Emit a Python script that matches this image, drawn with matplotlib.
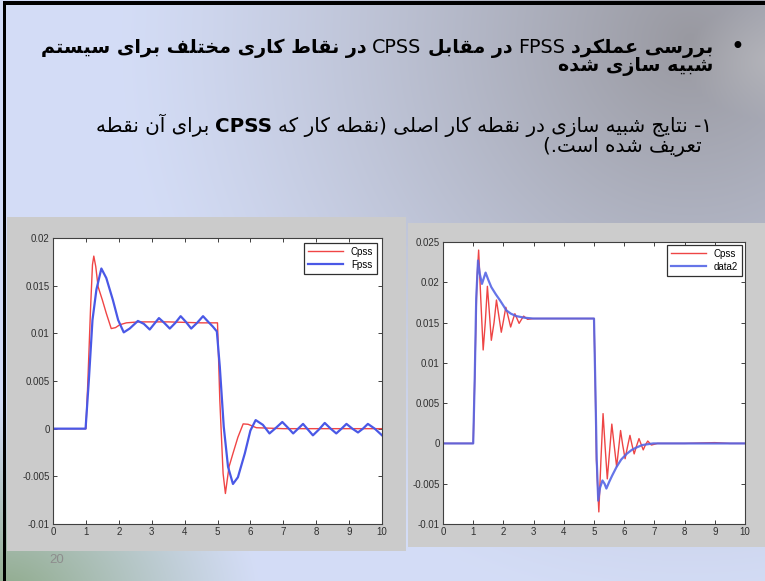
import numpy as np
import matplotlib
matplotlib.use("Agg")
import matplotlib.pyplot as plt
from matplotlib.patches import Rectangle

W, H = 765, 581

# ---- step responses, operating point 1 (left) ----
t_cpss_a = [0, 1.0, 1.06, 1.14, 1.2, 1.24, 1.3, 1.37, 1.5, 1.62, 1.77, 1.9, 2.03, 2.23, 2.6, 3.5, 4.5, 5.0,
            5.07, 5.17, 5.24, 5.35, 5.47, 5.62, 5.78, 5.93, 6.18, 7.0, 10.0]
v_cpss_a = [0, 0, 0.005, 0.0125, 0.0172, 0.0181, 0.0170, 0.0149, 0.0135, 0.0121, 0.0105, 0.0106, 0.0109,
            0.0111, 0.0112, 0.0112, 0.0111, 0.0111,
            0.003, -0.0047, -0.0068, -0.0040, -0.0026, -0.0009, 0.0005, 0.00046, 0.0001, 0.0, 0.0]

t_fpss_a = [0, 0.99, 1.09, 1.2, 1.32, 1.47, 1.62, 1.82, 1.98, 2.15, 2.33, 2.58, 2.76, 2.94, 3.08, 3.22, 3.38,
            3.55, 3.72, 3.88, 4.04, 4.2, 4.38, 4.56, 4.72, 4.86, 4.98,
            5.07, 5.19, 5.32, 5.47, 5.62, 5.83, 6.0, 6.16, 6.38, 6.58, 6.78, 6.97, 7.14, 7.3, 7.45, 7.6, 7.75,
            7.9, 8.08, 8.26, 8.44, 8.61, 8.77, 8.92, 9.1, 9.27, 9.42, 9.57, 9.78, 10.0]
v_fpss_a = [0, 0, 0.0051, 0.0114, 0.0146, 0.0168, 0.0158, 0.0135, 0.0114, 0.0101, 0.0105, 0.0113, 0.0110,
            0.0104, 0.0110, 0.0116, 0.0111, 0.0105, 0.0111, 0.0118, 0.0112, 0.0105, 0.0111, 0.0118, 0.0112,
            0.0107, 0.0102,
            0.0065, 0.0002, -0.0040, -0.0058, -0.0051, -0.0026, -0.0002, 0.0009, 0.0004, -0.0005, 0.0001,
            0.0007, 0.0001, -0.0005, 0.0000, 0.0005, -0.0001, -0.0007, -0.0001, 0.0006, 0.0000, -0.0005,
            0.0000, 0.0005, 0.0000, -0.0004, 0.0000, 0.0005, 0.0000, -0.0007]

# ---- step responses, operating point 2 (right) ----
t_cpss_b = [0, 1.0, 1.05, 1.12, 1.18, 1.25, 1.33, 1.4, 1.47, 1.54, 1.6, 1.69, 1.77, 1.85, 1.93, 2.0, 2.08,
            2.16, 2.24, 2.31, 2.38, 2.45, 2.52, 2.6, 2.67, 2.8, 3.0, 5.0,
            5.04, 5.08, 5.16, 5.23, 5.3, 5.37, 5.44, 5.52, 5.59, 5.67, 5.75, 5.82, 5.88, 5.95, 6.03, 6.11,
            6.19, 6.26, 6.33, 6.41, 6.49, 6.56, 6.63, 6.7, 6.78, 6.9, 7.1, 8.0, 9.0, 9.5, 10.0]
v_cpss_b = [0, 0, 0.008, 0.020, 0.024, 0.018, 0.0116, 0.015, 0.0195, 0.016, 0.0128, 0.015, 0.0178, 0.0158,
            0.0138, 0.0152, 0.0169, 0.0157, 0.01445, 0.0153, 0.0161, 0.0155, 0.0149, 0.0154, 0.0158, 0.0154,
            0.0155, 0.0155,
            0.008, -0.002, -0.0085, -0.002, 0.0037, -0.0005, -0.0044, -0.0008, 0.0024, -0.0003, -0.0029,
            -0.0005, 0.0016, -0.0002, -0.0019, -0.0004, 0.0010, -0.0002, -0.0013, -0.0003, 0.0006, -0.0001,
            -0.0008, -0.0002, 0.0003, -0.0002, 0.0, 0.0, 0.0001, 0.0, 0.0]

t_data2_b = [0, 1.0, 1.05, 1.1, 1.16, 1.22, 1.29, 1.35, 1.41, 1.5, 1.6, 1.75, 1.88, 2.0, 2.1, 2.25, 2.43,
             2.7, 3.0, 5.0, 5.04, 5.09, 5.14, 5.2, 5.28, 5.35, 5.41, 5.5, 5.6, 5.75, 5.9, 6.08, 6.25, 6.41,
             6.6, 6.96, 8.0, 9.0, 10.0]
v_data2_b = [0, 0, 0.008, 0.018, 0.0227, 0.021, 0.0198, 0.0205, 0.0212, 0.0203, 0.0194, 0.0185, 0.0178,
             0.0171, 0.0165, 0.0161, 0.0158, 0.0156, 0.0155, 0.0155, 0.008, -0.002, -0.0071, -0.0055,
             -0.0046, -0.0050, -0.0056, -0.0048, -0.0040, -0.0029, -0.0020, -0.0013, -0.0008, -0.0005,
             -0.0002, 0.0, 0.0, 0.0, 0.0]

xticks = list(range(0, 11))
yticks_a = [-0.01, -0.005, 0, 0.005, 0.01, 0.015, 0.02]
ylabels_a = ["-0.01", "-0.005", "0", "0.005", "0.01", "0.015", "0.02"]
yticks_b = [-0.01, -0.005, 0, 0.005, 0.01, 0.015, 0.02, 0.025]
ylabels_b = ["-0.01", "-0.005", "0", "0.005", "0.01", "0.015", "0.02", "0.025"]

# slide text, logical order; (text, bold, rtl)
line1 = [("بررسی عملکرد", True, True), ("FPSS", False, False), ("در مقابل", True, True),
         ("CPSS", False, False), ("در نقاط کاری مختلف برای سیستم", True, True)]
line2 = [("شبیه سازی شده", True, True)]
line3 = [("۱- نتایج شبیه سازی در نقطه کار اصلی (نقطه کار که", False, True), ("CPSS", True, False),
         ("برای آن نقطه", False, True)]
line4 = [("تعریف شده است.)", False, True)]


# --- minimal arabic shaping: contextual forms + right-to-left order ---
DUAL = {'ب': 0xFE8F, 'ت': 0xFE95, 'ث': 0xFE99, 'ج': 0xFE9D, 'ح': 0xFEA1, 'خ': 0xFEA5, 'س': 0xFEB1,
        'ش': 0xFEB5, 'ص': 0xFEB9, 'ض': 0xFEBD, 'ط': 0xFEC1, 'ظ': 0xFEC5, 'ع': 0xFEC9, 'غ': 0xFECD,
        'ف': 0xFED1, 'ق': 0xFED5, 'ل': 0xFEDD, 'م': 0xFEE1, 'ن': 0xFEE5, 'ه': 0xFEE9,
        'پ': 0xFB56, 'چ': 0xFB7A, 'ک': 0xFB8E, 'گ': 0xFB92, 'ی': 0xFBFC}
RIGHT = {'ا': 0xFE8D, 'آ': 0xFE81, 'د': 0xFEA9, 'ذ': 0xFEAB, 'ر': 0xFEAD, 'ز': 0xFEAF, 'و': 0xFEED,
         'ژ': 0xFB8A}
MIRROR = {'(': ')', ')': '('}


def shape(s):
    out = []
    for i, c in enumerate(s):
        base = DUAL.get(c, RIGHT.get(c))
        if base is None:
            out.append(c)
            continue
        prev = s[i - 1] if i > 0 else ''
        nxt = s[i + 1] if i + 1 < len(s) else ''
        jp = prev in DUAL
        jn = c in DUAL and (nxt in DUAL or nxt in RIGHT)
        if jp and jn:
            off = 3
        elif jp:
            off = 1
        elif jn:
            off = 2
        else:
            off = 0
        out.append(chr(base + off))
    return ''.join(MIRROR.get(c, c) for c in reversed(out))


fig = plt.figure(figsize=(W / 100, H / 100), dpi=100, facecolor='white')

# slide background
bg = fig.add_axes([0, 0, 1, 1])
yy, xx = np.mgrid[0:H, 0:W].astype(float)
lav = np.array([0.83, 0.865, 0.965])
grey = np.array([0.6, 0.6, 0.63])
green = np.array([0.55, 0.66, 0.53])
d1 = np.hypot((xx - 690) / 1.0, (yy - 40) * 1.0)
w1 = np.clip(1 - d1 / 570, 0, 1) ** 1.2
d3 = np.hypot(xx - 775, (yy - 60) * 1.5)
w3 = np.clip(1 - d3 / 90, 0, 1) * 0.6
d2 = np.hypot(xx, (yy - 600) * 1.3)
w2 = np.clip(1 - d2 / 260, 0, 1) ** 1.1
img = lav * (1 - w1[..., None]) + grey * w1[..., None]
img = img * (1 - w3[..., None]) + np.array([0.75, 0.75, 0.76]) * w3[..., None]
img = img * (1 - w2[..., None]) + green * w2[..., None]
bg.imshow(img, extent=(0, W, H, 0), aspect='auto', interpolation='bilinear')
bg.set_xlim(0, W)
bg.set_ylim(H, 0)
bg.axis('off')

# black frame on top and left
bg.add_patch(Rectangle((3, 1), W, 4, color='black', lw=0))
bg.add_patch(Rectangle((3, 1), 3.5, H, color='black', lw=0))

# grey panels behind the two figures
bg.add_patch(Rectangle((7, 217), 399, 334, color='#cbcbcb', lw=0))
bg.add_patch(Rectangle((408, 223), W - 408, 324, color='#cccccc', lw=0))

bg.text(57, 560, "20", fontsize=9.5, color='#8d8d8d', ha='center', va='center', family='Liberation Sans')

renderer = fig.canvas.get_renderer()


def put_line(runs, x_right, y, size):
    x = x_right
    for txt, bold, rtl in runs:
        s = shape(txt) if rtl else txt
        t = bg.text(x, y, s, ha='right', va='baseline', fontsize=size,
                    fontweight='bold' if bold else 'normal', family='DejaVu Sans', color='black')
        w = t.get_window_extent(renderer).width
        x -= w + size * 0.42


bg.text(737, 47, "•", fontsize=17, ha='center', va='center', family='DejaVu Sans')
put_line(line1, 713, 53, 13.8)
put_line(line2, 713, 71, 13.8)
put_line(line3, 712, 132, 14.3)
put_line(line4, 702, 151, 14.3)


def style(ax, yt, yl, ylim):
    ax.set_facecolor('white')
    ax.set_xlim(0, 10)
    ax.set_ylim(*ylim)
    ax.set_xticks(xticks)
    ax.set_xticklabels([str(v) for v in xticks])
    ax.set_yticks(yt)
    ax.set_yticklabels(yl)
    ax.tick_params(direction='in', top=True, right=True, length=3, width=0.7, labelsize=7,
                   pad=2.5, color='#404040', labelcolor='#303030')
    for lab in ax.get_xticklabels() + ax.get_yticklabels():
        lab.set_family('Liberation Sans')
    for sp in ax.spines.values():
        sp.set_color('#404040')
        sp.set_linewidth(0.8)


ax1 = fig.add_axes([53 / W, (H - 524) / H, 329 / W, 286 / H])
ax1.plot(t_cpss_a, v_cpss_a, color='#f04545', lw=1.0, label='Cpss')
ax1.plot(t_fpss_a, v_fpss_a, color='#4a58e6', lw=1.6, label='Fpss')
style(ax1, yticks_a, ylabels_a, (-0.01, 0.02))
leg1 = ax1.legend(loc='upper right', fontsize=7, fancybox=False, edgecolor='#303030', framealpha=1,
                  handlelength=3.6, borderaxespad=0.5, borderpad=0.4, labelspacing=0.3,
                  prop={'family': 'Liberation Sans', 'size': 7})
leg1.get_frame().set_linewidth(0.9)

ax2 = fig.add_axes([443 / W, (H - 524) / H, 302 / W, 282 / H])
ax2.plot(t_cpss_b, v_cpss_b, color='#ee4545', lw=1.0, label='Cpss')
ax2.plot(t_data2_b, v_data2_b, color='#5566e6', lw=1.6, label='data2', alpha=0.9)
style(ax2, yticks_b, ylabels_b, (-0.01, 0.025))
leg2 = ax2.legend(loc='upper right', fontsize=7, fancybox=False, edgecolor='#303030', framealpha=1,
                  handlelength=3.6, borderaxespad=0.3, borderpad=0.4, labelspacing=0.3,
                  prop={'family': 'Liberation Sans', 'size': 7})
leg2.get_frame().set_linewidth(0.9)

fig.savefig("out.png", dpi=100)
